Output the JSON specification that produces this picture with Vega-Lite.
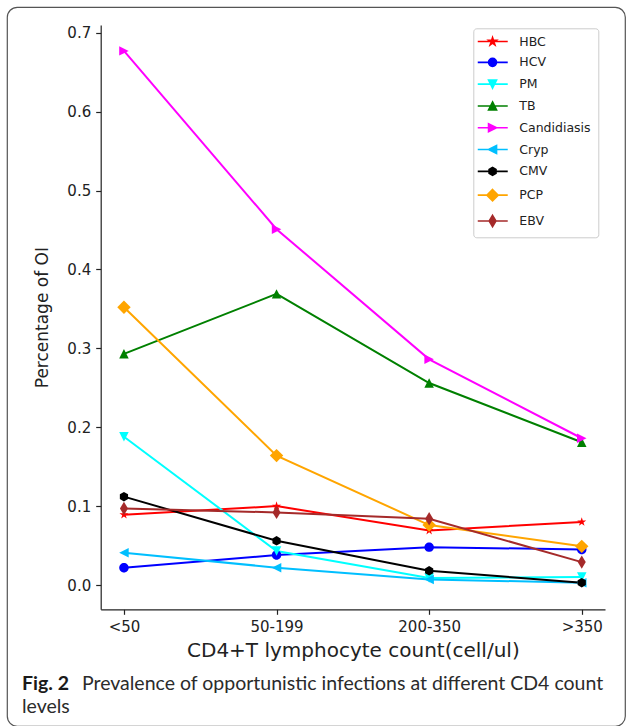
{
  "$schema": "https://vega.github.io/schema/vega-lite/v6.json",
  "width": 618,
  "height": 719,
  "autosize": {"type": "none"},
  "padding": {"left": 7, "top": 7, "right": 1, "bottom": 0},
  "background": "white",
  "config": {
    "view": {"stroke": "#555555", "strokeWidth": 1.2, "cornerRadius": 10, "fill": "white"},
    "axis": {
      "labelFont": "DejaVu Sans", "titleFont": "DejaVu Sans",
      "labelFontSize": 15, "titleFontWeight": "normal",
      "labelColor": "#222222", "titleColor": "#222222",
      "domainColor": "#222222", "tickColor": "#222222",
      "domainWidth": 1.2, "tickWidth": 1.2, "tickSize": 5,
      "labelPadding": 5, "grid": false
    }
  },
  "title": {
    "text": "Fig. 2",
    "subtitle": ["\u200b\u00a0\u00a0\u00a0\u00a0\u00a0\u00a0\u00a0\u00a0\u00a0\u00a0\u00a0\u00a0Prevalence of opportunistic infections at different CD4 count", "levels"],
    "orient": "bottom",
    "anchor": "start",
    "frame": "group",
    "offset": -51,
    "dx": 15,
    "font": "Lato",
    "fontSize": 19.5,
    "fontWeight": "bold",
    "color": "#1a1a1a",
    "subtitleFont": "Lato",
    "subtitleFontSize": 19.5,
    "subtitleFontWeight": "normal",
    "subtitleColor": "#2b2b2b",
    "subtitlePadding": -19.5,
    "subtitleLineHeight": 23
  },
  "data": {
    "values": [
      {"cd4": "<50", "oi": "HBC", "pct": 0.089},
      {"cd4": "50-199", "oi": "HBC", "pct": 0.100},
      {"cd4": "200-350", "oi": "HBC", "pct": 0.069},
      {"cd4": ">350", "oi": "HBC", "pct": 0.080},
      {"cd4": "<50", "oi": "HCV", "pct": 0.022},
      {"cd4": "50-199", "oi": "HCV", "pct": 0.038},
      {"cd4": "200-350", "oi": "HCV", "pct": 0.048},
      {"cd4": ">350", "oi": "HCV", "pct": 0.045},
      {"cd4": "<50", "oi": "PM", "pct": 0.188},
      {"cd4": "50-199", "oi": "PM", "pct": 0.043},
      {"cd4": "200-350", "oi": "PM", "pct": 0.009},
      {"cd4": ">350", "oi": "PM", "pct": 0.010},
      {"cd4": "<50", "oi": "TB", "pct": 0.293},
      {"cd4": "50-199", "oi": "TB", "pct": 0.369},
      {"cd4": "200-350", "oi": "TB", "pct": 0.256},
      {"cd4": ">350", "oi": "TB", "pct": 0.181},
      {"cd4": "<50", "oi": "Candidiasis", "pct": 0.677},
      {"cd4": "50-199", "oi": "Candidiasis", "pct": 0.451},
      {"cd4": "200-350", "oi": "Candidiasis", "pct": 0.286},
      {"cd4": ">350", "oi": "Candidiasis", "pct": 0.186},
      {"cd4": "<50", "oi": "Cryp", "pct": 0.041},
      {"cd4": "50-199", "oi": "Cryp", "pct": 0.022},
      {"cd4": "200-350", "oi": "Cryp", "pct": 0.007},
      {"cd4": ">350", "oi": "Cryp", "pct": 0.003},
      {"cd4": "<50", "oi": "CMV", "pct": 0.112},
      {"cd4": "50-199", "oi": "CMV", "pct": 0.056},
      {"cd4": "200-350", "oi": "CMV", "pct": 0.018},
      {"cd4": ">350", "oi": "CMV", "pct": 0.003},
      {"cd4": "<50", "oi": "PCP", "pct": 0.352},
      {"cd4": "50-199", "oi": "PCP", "pct": 0.164},
      {"cd4": "200-350", "oi": "PCP", "pct": 0.076},
      {"cd4": ">350", "oi": "PCP", "pct": 0.049},
      {"cd4": "<50", "oi": "EBV", "pct": 0.097},
      {"cd4": "50-199", "oi": "EBV", "pct": 0.092},
      {"cd4": "200-350", "oi": "EBV", "pct": 0.084},
      {"cd4": ">350", "oi": "EBV", "pct": 0.029}
    ]
  },
  "encoding": {
    "x": {
      "field": "cd4", "type": "ordinal",
      "sort": ["<50", "50-199", "200-350", ">350"],
      "scale": {"type": "point", "range": [93.7, 598], "padding": 0.1524},
      "axis": {"title": "CD4+T lymphocyte count(cell/ul)", "titleFontSize": 20, "labelAngle": 0, "offset": -116.7, "titlePadding": 6}
    },
    "y": {
      "field": "pct", "type": "quantitative",
      "scale": {"domain": [-0.0308, 0.7098], "range": [602.3, 18], "nice": false, "zero": false},
      "axis": {"title": "Percentage of OI", "titleFontSize": 17, "values": [0, 0.1, 0.2, 0.3, 0.4, 0.5, 0.6, 0.7], "format": ".1f", "offset": -93.7, "titlePadding": 15}
    },
    "color": {
      "field": "oi", "type": "nominal",
      "scale": {
        "domain": ["HBC", "HCV", "PM", "TB", "Candidiasis", "Cryp", "CMV", "PCP", "EBV"],
        "range": ["#ff0000", "#0000ff", "#00ffff", "#008000", "#ff00ff", "#00bfff", "#000000", "#ffa500", "#a52a2a"]
      },
      "legend": {
        "title": null,
        "orient": "none",
        "legendX": 466.3,
        "legendY": 21.3,
        "padding": 7,
        "fillColor": "white",
        "strokeColor": "#cccccc",
        "cornerRadius": 3,
        "labelFont": "DejaVu Sans",
        "labelFontSize": 12.5,
        "labelColor": "#222222",
        "labelOffset": 26.5,
        "rowPadding": 6.8,
        "symbolSize": 64,
        "symbolStrokeWidth": 1.6,
        "encode": {
          "symbols": {
            "update": {
              "shape": {"signal": "{'HBC':'M-2.2,0L5.3,0M1.5,-1L1.7245,-0.309L2.4511,-0.309L1.8633,0.118L2.0878,0.809L1.5,0.382L0.9122,0.809L1.1367,0.118L0.5489,-0.309L1.2755,-0.309Z','HCV':'M-2.2,0L5.3,0M2.5,0A1,1 0 1,1 0.5,0A1,1 0 1,1 2.5,0Z','PM':'M-2.2,0L5.3,0M1.5,1L2.5,-1L0.5,-1Z','TB':'M-2.2,0L5.3,0M1.5,-1L2.5,1L0.5,1Z','Candidiasis':'M-2.2,0L5.3,0M2.5,0L0.5,-1L0.5,1Z','Cryp':'M-2.2,0L5.3,0M0.5,0L2.5,-1L2.5,1Z','CMV':'M-2.2,0L5.3,0M1.5,-1L2.366,-0.5L2.366,0.5L1.5,1L0.634,0.5L0.634,-0.5Z','PCP':'M-2.2,0L5.3,0M1.5,-1.414L2.914,0L1.5,1.414L0.086,0Z','EBV':'M-2.2,0L5.3,0M1.5,-1.414L2.349,0L1.5,1.414L0.651,0Z'}[datum.value]"},
              "fill": {"scale": "color", "field": "value"},
              "stroke": {"scale": "color", "field": "value"},
              "strokeWidth": {"value": 1.6},
              "opacity": {"value": 1},
              "fillOpacity": {"value": 1}
            }
          }
        }
      }
    }
  },
  "layer": [
    {
      "mark": {"type": "line", "strokeWidth": 2},
      "encoding": {}
    },
    {
      "mark": {"type": "point", "filled": true, "size": 90, "opacity": 1},
      "encoding": {
        "shape": {
          "field": "oi", "type": "nominal",
          "scale": {
            "domain": ["EBV", "PCP", "CMV", "Cryp", "Candidiasis", "TB", "PM", "HCV", "HBC"],
            "range": [
              "M0,-1.414L0.849,0L0,1.414L-0.849,0Z",
              "M0,-1.414L1.414,0L0,1.414L-1.414,0Z",
              "M0,-1L0.866,-0.5L0.866,0.5L0,1L-0.866,0.5L-0.866,-0.5Z",
              "M-1,0L1,-1L1,1Z",
              "M1,0L-1,-1L-1,1Z",
              "M0,-1L1,1L-1,1Z",
              "M0,1L1,-1L-1,-1Z",
              "M1,0A1,1 0 1,1 -1,0A1,1 0 1,1 1,0Z",
              "M0,-1L0.2245,-0.309L0.9511,-0.309L0.3633,0.118L0.5878,0.809L0,0.382L-0.5878,0.809L-0.3633,0.118L-0.9511,-0.309L-0.2245,-0.309Z"
            ]
          },
          "legend": null
        }
      }
    }
  ]
}
